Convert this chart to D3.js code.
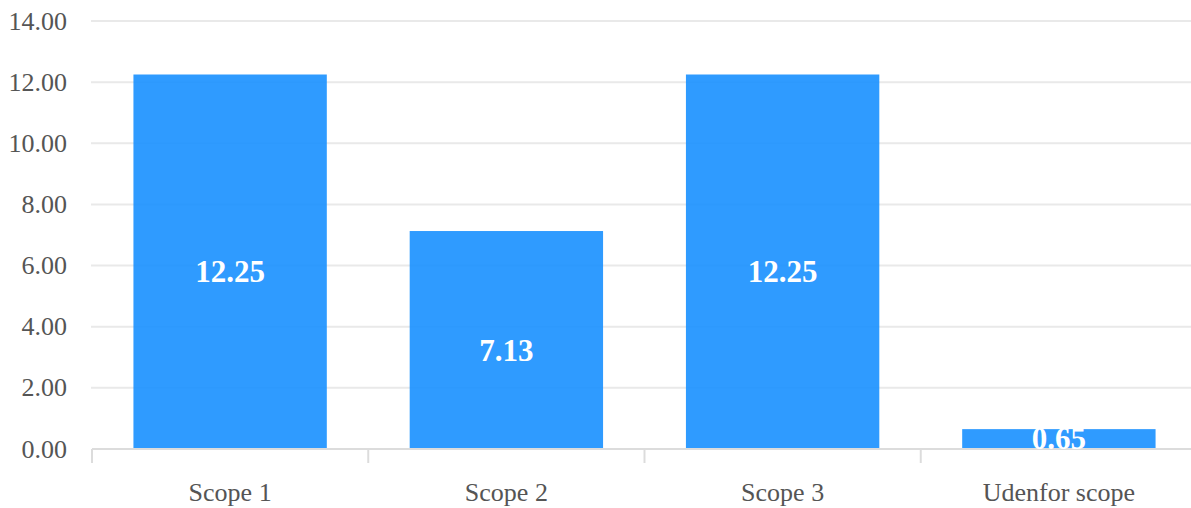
<html>
<head>
    <script src="https://d3js.org/d3.v7.min.js"></script>
</head>
<body style="margin:0;background:#fff">
<script>
    var categories = ["Scope 1", "Scope 2", "Scope 3", "Udenfor scope"];
    var values = [12.25, 7.13, 12.25, 0.65];
    var yTicks = [0, 2, 4, 6, 8, 10, 12, 14];

    var width = 1191,
        height = 508,
        plotLeft = 92,
        plotRight = 1197,
        plotTop = 21,
        plotBottom = 449;

    var x = d3.scaleBand()
        .domain(categories)
        .range([plotLeft, plotRight])
        .paddingInner(0.3)
        .paddingOuter(0.15);

    var xb = d3.scaleBand().domain(categories).range([plotLeft, plotRight]);

    var y = d3.scaleLinear()
        .domain([0, 14])
        .range([plotBottom, plotTop]);

    var svg = d3.select("body")
        .append("svg")
        .attr("width", width)
        .attr("height", height)
        .style("font-family", "Liberation Serif");

    function label(sel, size, color, anchor) {
        return sel
            .style("font-family", function () { return "Liberation Serif"; })
            .style("font-size", size)
            .style("fill", color)
            .style("text-anchor", anchor);
    }

    // grid
    svg.selectAll("line.grid")
        .data(yTicks.filter(function (d) { return d > 0; }))
        .enter()
        .append("line")
        .attr("class", "grid")
        .attr("x1", plotLeft - 1)
        .attr("x2", width)
        .attr("y1", function (d) { return y(d); })
        .attr("y2", function (d) { return y(d); })
        .attr("stroke", "#e9e9e9")
        .attr("stroke-width", 2);

    svg.selectAll("text.tick-y")
        .data(yTicks)
        .enter()
        .append("text")
        .attr("class", "tick-y")
        .attr("x", 67)
        .attr("y", function (d) { return y(d); })
        .attr("dy", "0.33em")
        .call(label, "26px", "#555", "end")
        .text(function (d) { return d3.format(".2f")(d); });

    // bars
    svg.selectAll("rect")
        .data(values)
        .enter()
        .append("rect")
        .attr("x", function (d, i) { return x(categories[i]); })
        .attr("width", x.bandwidth())
        .attr("y", function (d) { return y(d); })
        .attr("height", function (d) { return plotBottom - y(d); })
        .attr("fill", "#1890ff")
        .attr("fill-opacity", 0.9);

    // x axis
    svg.append("line")
        .attr("x1", plotLeft)
        .attr("x2", width)
        .attr("y1", plotBottom)
        .attr("y2", plotBottom)
        .attr("stroke", "#dcdcdc")
        .attr("stroke-width", 2);

    svg.selectAll("line.xtick")
        .data(categories)
        .enter()
        .append("line")
        .attr("class", "xtick")
        .attr("x1", function (d) { return xb(d); })
        .attr("x2", function (d) { return xb(d); })
        .attr("y1", plotBottom)
        .attr("y2", plotBottom + 14)
        .attr("stroke", "#dcdcdc")
        .attr("stroke-width", 2);

    svg.selectAll("text.tick-x")
        .data(categories)
        .enter()
        .append("text")
        .attr("class", "tick-x")
        .attr("x", function (d) { return xb(d) + xb.bandwidth() / 2; })
        .attr("y", 501)
        .call(label, "26px", "#555", "middle")
        .text(function (d) { return d; });

    // value labels
    svg.selectAll("text.value")
        .data(values)
        .enter()
        .append("text")
        .attr("class", "value")
        .attr("x", function (d, i) { return x(categories[i]) + x.bandwidth() / 2; })
        .attr("y", function (d) {
            var c = (y(d) + plotBottom) / 2 + 10;
            return Math.min(c, plotBottom - 11);
        })
        .attr("dy", "0.34em")
        .call(label, "31px", "#fff", "middle")
        .style("font-weight", "bold")
        .text(function (d) { return d3.format(".2f")(d); });
</script>
</body>
</html>
